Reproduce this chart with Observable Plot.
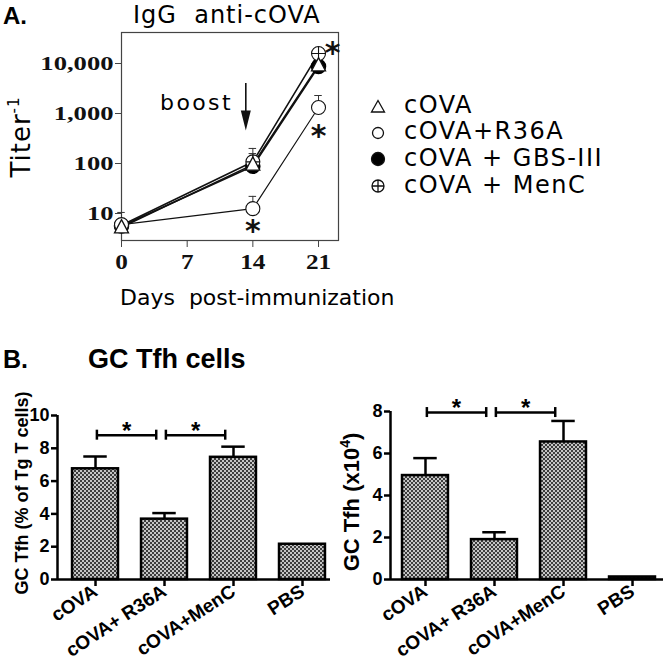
<!DOCTYPE html>
<html><head><meta charset="utf-8">
<script src="https://cdn.jsdelivr.net/npm/d3@7"></script>
<script src="https://cdn.jsdelivr.net/npm/@observablehq/plot@0.6"></script>
<style>
html,body{margin:0;padding:0;background:#fff;}
#fig{position:relative;width:666px;height:662px;overflow:hidden;background:#fff;}
#fig > svg{position:absolute;overflow:visible;}
#overlay text{white-space:pre;}
</style></head><body><div id="fig"></div>
<script>
// ---------- Panel A data (IgG anti-cOVA titers) ----------
const days = [0, 14, 21];
const groups = ["cOVA", "cOVA+R36A", "cOVA + GBS-III", "cOVA + MenC"];
const titerCOVA = [5.3, 95, 9200];
const titerR36A = [6.0, 12.5, 1320];
const titerGBS  = [5.6, 88, 8700];
const titerMenC = [5.8, 108, 15800];
const errCOVA = [10.5, 158, null];
const errR36A = [null, 22, 2290];
const errGBS  = [null, null, null];
const errMenC = [null, 200, null];
const titerTicks = [10, 100, 1000, 10000];
const dayTicks = [0, 7, 14, 21];
const starDays = [14, 21, 22.5];
const starTiters = [6.3, 500, 22900];
const boostDay = 13.25, boostFrom = 3970, boostTo = 457;

// ---------- Panel B data (GC Tfh cells) ----------
const groupsB = ["cOVA", "cOVA+ R36A", "cOVA+MenC", "PBS"];
const pctTfh    = [6.75, 3.68, 7.45, 2.15];
const pctTfhErr = [7.5, 4.05, 8.1, null];
const pctTicks  = [0, 2, 4, 6, 8, 10];
const numTfh    = [4.95, 1.9, 6.55, 0.12];
const numTfhErr = [5.78, 2.25, 7.55, null];
const numTicks  = [0, 2, 4, 6, 8];
const comparisons = [[0, 1], [1, 2]];

const fig = document.getElementById("fig");

// ---------- overlay (defs + free text) ----------
const overlay = d3.create("svg").attr("id", "overlay").attr("width", 666).attr("height", 662)
  .style("left", "0px").style("top", "0px").style("pointer-events", "none");
const pat = overlay.append("defs").append("pattern").attr("id", "checker")
  .attr("width", 4).attr("height", 4).attr("patternUnits", "userSpaceOnUse");
pat.append("rect").attr("width", 4).attr("height", 4).attr("fill", "#c4c4c4");
pat.append("rect").attr("width", 2).attr("height", 2).attr("fill", "#3c3c3c");
pat.append("rect").attr("x", 2).attr("y", 2).attr("width", 2).attr("height", 2).attr("fill", "#3c3c3c");

// ---------- symbols ----------
const symTri = {draw(ctx, size) { const r = Math.sqrt(size / Math.PI);
  ctx.moveTo(0, -1.1 * r); ctx.lineTo(r, 0.8 * r); ctx.lineTo(-r, 0.8 * r); ctx.closePath(); }};
const symCirclePlus = {draw(ctx, size) { const r = Math.sqrt(size / Math.PI);
  ctx.moveTo(r, 0); ctx.arc(0, 0, r, 0, 2 * Math.PI);
  ctx.moveTo(-r, 0); ctx.lineTo(r, 0); ctx.moveTo(0, -r); ctx.lineTo(0, r); }};
const symHead = {draw(ctx, size) { const r = Math.sqrt(size / Math.PI);
  ctx.moveTo(0, 0); ctx.lineTo(-0.5 * r, -2 * r); ctx.lineTo(0.5 * r, -2 * r); ctx.closePath(); }};

function styleTicks(svg, label, size, family, weight, stretch) {
  svg.querySelectorAll(`g[aria-label="${label}"]`).forEach(g => {
    g.setAttribute("font-size", size);
    g.setAttribute("font-family", family);
    g.setAttribute("font-weight", weight);
    g.querySelectorAll("text").forEach(t => {
      t.style.fontSize = size + "px"; t.style.fontFamily = family; t.style.fontWeight = weight;
      if (stretch) {
        const L = t.getComputedTextLength();
        t.setAttribute("textLength", L * stretch); t.setAttribute("lengthAdjust", "spacingAndGlyphs");
      }
    });
  });
}

// ---------- Panel A ----------
const seriesA = [[groups[0], titerCOVA, errCOVA], [groups[1], titerR36A, errR36A],
                 [groups[2], titerGBS, errGBS], [groups[3], titerMenC, errMenC]];
const rowsA = [];
seriesA.forEach(([g, vals, errs]) => days.forEach((d, i) =>
  rowsA.push({group: g, day: d, titer: vals[i], err: errs[i]})));
const errRows = rowsA.filter(r => r.err != null);
const byG = g => rowsA.filter(r => r.group === g);
const stars = starDays.map((d, i) => ({day: d, t: starTiters[i]}));

const chartA = Plot.plot({
  width: 345, height: 310, marginLeft: 121, marginRight: 7, marginTop: 32, marginBottom: 70,
  x: {domain: [0, 23.13]},
  y: {type: "log", domain: [10 ** 0.46, 10 ** 4.62]},
  style: {background: "transparent", overflow: "visible"},
  marks: [
    Plot.frame({stroke: "#444", strokeWidth: 1.2}),
    Plot.axisY({ticks: titerTicks, tickFormat: d3.format(","), tickSize: 6, tickPadding: 2,
      fontSize: 19, fontWeight: "bold", fontFamily: "Liberation Serif", label: null, stroke: "#444", color: "#111"}),
    Plot.axisX({ticks: dayTicks, tickSize: 7, tickPadding: 7, fontSize: 21, fontWeight: "bold",
      fontFamily: "Liberation Serif", label: null, stroke: "#444", color: "#111"}),
    Plot.ruleX(errRows, {x: "day", y1: "titer", y2: "err", stroke: "#333", strokeWidth: 1}),
    Plot.ruleY(errRows, {y: "err", x1: d => d.day - 0.4, x2: d => d.day + 0.4, stroke: "#333", strokeWidth: 1}),
    Plot.line(rowsA.filter(r => r.group !== groups[1]), {x: "day", y: "titer", z: "group", stroke: "#111", strokeWidth: 1.6}),
    Plot.line(byG(groups[1]), {x: "day", y: "titer", stroke: "#111", strokeWidth: 1.1}),
    Plot.dot(byG(groups[2]), {x: "day", y: "titer", r: 7, fill: "#000", stroke: "#000"}),
    Plot.dot(byG(groups[3]), {x: "day", y: "titer", r: 7, symbol: symCirclePlus, fill: "#fff", stroke: "#111", strokeWidth: 1.1}),
    Plot.dot(byG(groups[1]), {x: "day", y: "titer", r: 7, fill: "#fff", stroke: "#111", strokeWidth: 1.1}),
    Plot.dot(byG(groups[0]), {x: "day", y: "titer", r: 7, symbol: symTri, fill: "#fff", stroke: "#111", strokeWidth: 1.3}),
    Plot.text(stars, {x: "day", y: "t", text: () => "*", fontSize: 30, fontWeight: "bold", fontFamily: "DejaVu Sans", dy: 8, fill: "#111"}),
    Plot.ruleX([boostDay], {y1: boostFrom, y2: boostTo * 1.7, stroke: "#111", strokeWidth: 1.6}),
    Plot.dot([boostDay], {x: d => d, y: () => boostTo, r: 10, symbol: symHead, fill: "#111", stroke: "none"})
  ]
});
chartA.style.left = "0px"; chartA.style.top = "0px";
fig.appendChild(chartA);
styleTicks(chartA, "y-axis tick label", 19, "Liberation Serif", "bold", 1.4);
styleTicks(chartA, "x-axis tick label", 21, "Liberation Serif", "bold", 1.2);

// ---------- Panel B ----------
function barPanel(vals, errs, ticks, yMax, xDomain, top, left, bY) {
  const rows = groupsB.map((g, i) => ({i, g, v: vals[i], e: errs[i]}));
  const er = rows.filter(r => r.e != null);
  const innerH = 199 - top;
  const capH = 5 * yMax / innerH;
  const br = comparisons.map(([a, b]) => ({x1: a + 0.02, x2: b - 0.12, y: bY}));
  const ends = br.flatMap(d => [{x: d.x1, y: d.y}, {x: d.x2, y: d.y}]);
  const st = br.map(d => ({x: (d.x1 + d.x2) / 2, y: d.y + 10 * yMax / innerH}));
  const c = Plot.plot({
    width: 335, height: 282, marginLeft: 57, marginRight: 5, marginTop: top, marginBottom: 83,
    x: {domain: xDomain},
    y: {domain: [0, yMax]},
    style: {background: "transparent", overflow: "visible"},
    marks: [
      Plot.rect(rows, {x1: d => d.i - 0.333, x2: d => d.i + 0.333, y1: () => 0, y2: "v",
        fill: "url(#checker)", stroke: "#000", strokeWidth: 2.5}),
      Plot.ruleX(er, {x: "i", y1: "v", y2: "e", stroke: "#000", strokeWidth: 2.5}),
      Plot.ruleY(er, {y: "e", x1: d => d.i - 0.17, x2: d => d.i + 0.17, stroke: "#000", strokeWidth: 2.5}),
      Plot.ruleX([xDomain[0]], {stroke: "#000", strokeWidth: 2.5}),
      Plot.ruleY([0], {stroke: "#000", strokeWidth: 2.5}),
      Plot.axisY({ticks, tickSize: 6, tickPadding: 2, strokeWidth: 2.5, stroke: "#000", fontSize: 18,
        fontWeight: "bold", fontFamily: "Liberation Sans", label: null, color: "#000"}),
      Plot.axisX({ticks: [0, 1, 2, 3], tickFormat: i => groupsB[i], tickRotate: -33, tickSize: 7, tickPadding: 3,
        strokeWidth: 2.5, stroke: "#000", fontSize: 19, fontWeight: "bold", fontFamily: "Liberation Sans", label: null, color: "#000"}),
      Plot.ruleY(br, {y: "y", x1: "x1", x2: "x2", stroke: "#000", strokeWidth: 2.5}),
      Plot.ruleX(ends, {x: "x", y1: d => d.y - capH, y2: d => d.y + capH, stroke: "#000", strokeWidth: 2.5}),
      Plot.text(st, {x: "x", y: "y", text: () => "*", fontSize: 24, fontWeight: "bold", fontFamily: "Liberation Sans", dy: 6, fill: "#000"})
    ]
  });
  c.style.left = left + "px"; c.style.top = "380px";
  fig.appendChild(c);
  styleTicks(c, "y-axis tick label", 18, "Liberation Sans", "bold");
  styleTicks(c, "x-axis tick label", 19, "Liberation Sans", "bold");
  return c;
}
barPanel(pctTfh, pctTfhErr, pctTicks, 10, [-0.551, 3.406], 35, 0, 8.8);
barPanel(numTfh, numTfhErr, numTicks, 8, [-0.507, 3.449], 31, 333, 7.95);

// ---------- text + legend ----------
function txt(x, y, s, o = {}) {
  const t = overlay.append("text").attr("x", x).attr("y", y).text(s)
    .attr("font-family", o.family || "DejaVu Sans").attr("font-size", o.size || 20)
    .attr("font-weight", o.weight || "normal").attr("fill", "#000");
  if (o.anchor) t.attr("text-anchor", o.anchor);
  if (o.ls) t.attr("letter-spacing", o.ls);
  return t;
}
txt(3, 24, "A.", {family: "Liberation Sans", size: 24, weight: "bold"});
txt(133, 23, "IgG  anti-cOVA", {size: 24, ls: 1});
txt(233, 110, "boost", {size: 22, ls: 2.4, anchor: "end"});
txt(120, 305, "Days  post-immunization", {size: 22});
const ty = overlay.append("text").attr("transform", "translate(30,137) rotate(-90)")
  .attr("text-anchor", "middle").attr("font-family", "DejaVu Sans").attr("font-size", 26).attr("letter-spacing", 1);
ty.append("tspan").text("Titer");
ty.append("tspan").attr("font-size", 15).attr("dy", -11).text("-1");

// legend
const lg = overlay.append("g").attr("stroke", "#111").attr("stroke-width", 1.3);
lg.append("path").attr("d", "M378,100.5L384.5,112L371.5,112Z").attr("fill", "#fff");
lg.append("circle").attr("cx", 378).attr("cy", 133).attr("r", 5.5).attr("fill", "#fff");
lg.append("circle").attr("cx", 378).attr("cy", 159).attr("r", 6.5).attr("fill", "#000");
lg.append("path").attr("d", "M384,186A6,6 0 1 1 372,186A6,6 0 1 1 384,186M372,186L384,186M378,180L378,192").attr("fill", "#fff");
const legendY = [113, 139, 166, 193];
groups.forEach((g, i) => txt(404, legendY[i], g, {size: 24, ls: 1.5}));

txt(3, 368, "B.", {family: "Liberation Sans", size: 25, weight: "bold"});
txt(88, 368, "GC Tfh cells", {family: "Liberation Sans", size: 27, weight: "bold"});
overlay.append("text").attr("transform", "translate(28,493) rotate(-90)").attr("text-anchor", "middle")
  .attr("font-family", "Liberation Sans").attr("font-size", 18).attr("font-weight", "bold").text("GC Tfh (% of Tg T cells)");
const t2 = overlay.append("text").attr("transform", "translate(359,502) rotate(-90)").attr("text-anchor", "middle")
  .attr("font-family", "Liberation Sans").attr("font-size", 22).attr("font-weight", "bold");
t2.append("tspan").text("GC Tfh (x10");
t2.append("tspan").attr("font-size", 14).attr("dy", -9).text("4");
t2.append("tspan").attr("dy", 9).text(")");

fig.appendChild(overlay.node());
</script></body></html>
